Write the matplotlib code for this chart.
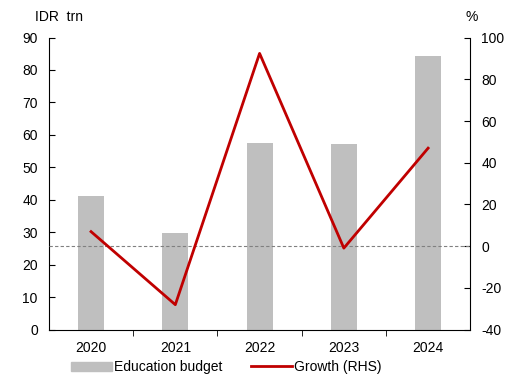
import numpy as np
import matplotlib.pyplot as plt
from matplotlib.lines import Line2D
from matplotlib.patches import Patch

plt.rcParams['font.family'] = ['Liberation Sans', 'DejaVu Sans']
plt.rcParams['font.size'] = 10
plt.rcParams['axes.unicode_minus'] = False

# data to plot
years = ['2020', '2021', '2022', '2023', '2024']
budget = [41.3, 29.7, 57.6, 57.1, 84.4]      # IDR trn
growth = [7.0, -28.0, 92.4, -0.9, 47.0]      # % yoy

fig, ax = plt.subplots(figsize=(5.26, 3.79), dpi=100)
fig.subplots_adjust(left=0.093, right=0.894, top=0.901, bottom=0.13)
index = np.arange(len(years))

ax.bar(index, budget, 0.31, color='#bfbfbf', zorder=1)
ax.set_xlim(-0.5, 4.5)
ax.set_ylim(0, 90)
ax.set_yticks(np.arange(0, 91, 10))
ax.set_xticks(index)
ax.set_xticklabels(years)
ax.set_xticks(index[:-1] + 0.5, minor=True)
ax.tick_params(axis='x', which='major', length=0, pad=8)
ax.tick_params(axis='x', which='minor', length=4, direction='out')
ax.tick_params(axis='y', length=4, direction='in', pad=8)
for s in ('top', 'right'):
    ax.spines[s].set_visible(False)

ax2 = ax.twinx()
ax2.set_ylim(-40, 100)
ax2.set_yticks(np.arange(-40, 101, 20))
ax2.axhline(0, color='#808080', lw=0.8, ls=(0, (3, 2)), zorder=2)
ax2.plot(index, growth, color='#c00000', lw=2, zorder=3)
ax2.tick_params(axis='y', length=4, direction='in', pad=8)
for s in ('top', 'left', 'bottom'):
    ax2.spines[s].set_visible(False)

fig.text(0.067, 0.945, 'IDR  trn', fontsize=10)
fig.text(0.885, 0.945, '%', fontsize=10)

handles = [Patch(color='#bfbfbf', label='Education budget'),
           Line2D([], [], color='#c00000', lw=2, label='Growth (RHS)')]
fig.legend(handles=handles, loc='lower center', ncol=2, frameon=False,
           bbox_to_anchor=(0.43, -0.02), handlelength=3.0, handleheight=0.6,
           columnspacing=2.0, handletextpad=0.15, fontsize=10)

plt.savefig('out.png')
